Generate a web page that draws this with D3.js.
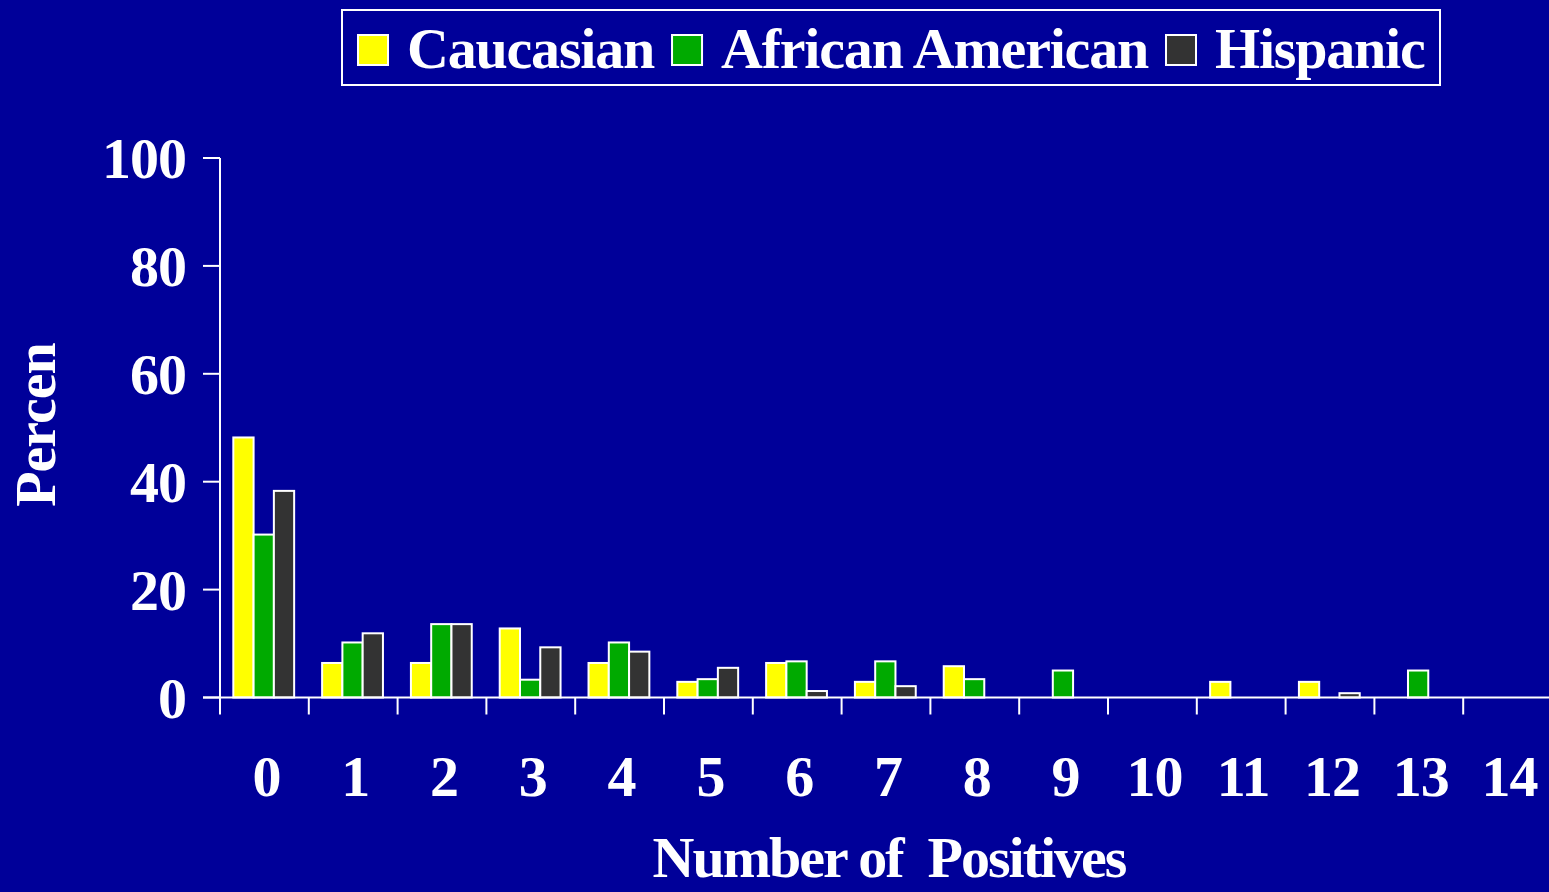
<!DOCTYPE html>
<html>
<head>
<meta charset="utf-8">
<script src="https://cdn.jsdelivr.net/npm/d3@7"></script>
<style>
  html, body { margin: 0; padding: 0; background: #000099; }
  svg text { font-family: "Liberation Serif", "Times New Roman", serif; font-weight: bold; fill: #fff; }
</style>
</head>
<body>
<div id="chart"></div>
<script>
// categories and series (percent)
const positives = ["0","1","2","3","4","5","6","7","8","9","10","11","12","13","14"];
const seriesNames = ["Caucasian", "African American", "Hispanic"];
const caucasian = [48.2, 6.4, 6.4, 12.8, 6.4, 2.9, 6.4, 2.9, 5.8, 0, 0, 2.9, 2.9, 0, 0];
const africanAmerican = [30.2, 10.2, 13.6, 3.3, 10.2, 3.4, 6.7, 6.7, 3.4, 5.0, 0, 0, 0, 5.0, 0];
const hispanic = [38.3, 11.9, 13.6, 9.3, 8.5, 5.5, 1.2, 2.1, 0, 0, 0, 0, 0.8, 0, 0];
const yTicks = [0, 20, 40, 60, 80, 100];
const colors = ["#ffff00", "#00aa00", "#333333"];

const W = 1549, H = 892;
const margin = {top: 158, right: -3, bottom: 194, left: 220};

const svg = d3.select("#chart").append("svg")
    .attr("width", W)
    .attr("height", H);

svg.append("rect").attr("width", W).attr("height", H).attr("fill", "#000099");

const data = positives.map((p, i) => ({
  cat: p,
  values: [caucasian[i], africanAmerican[i], hispanic[i]]
}));

const x = d3.scaleBand()
    .domain(positives)
    .range([margin.left, W - margin.right])
    .padding(0);

const xSub = d3.scaleBand()
    .domain(seriesNames)
    .range([x.bandwidth() * 0.15, x.bandwidth() * 0.835])
    .padding(0);

const y = d3.scaleLinear()
    .domain([0, 100])
    .range([H - margin.bottom - 0.5, margin.top]);

const color = d3.scaleOrdinal().domain(seriesNames).range(colors);

// bars
svg.append("g")
  .selectAll("g")
  .data(data)
  .join("g")
    .attr("transform", d => `translate(${x(d.cat)},0)`)
  .selectAll("rect")
  .data(d => d.values.map((v, k) => ({key: seriesNames[k], value: v})).filter(e => e.value > 0))
  .join("rect")
    .attr("x", d => xSub(d.key))
    .attr("y", d => y(d.value))
    .attr("width", xSub.bandwidth())
    .attr("height", d => y(0) - y(d.value))
    .attr("fill", d => color(d.key))
    .attr("stroke", "#fff")
    .attr("stroke-width", 2);

// x axis: line + ticks at band edges
const xAxis = svg.append("g");
xAxis.append("line")
    .attr("x1", margin.left - 17).attr("x2", W)
    .attr("y1", y(0)).attr("y2", y(0))
    .attr("stroke", "#fff").attr("stroke-width", 2);
xAxis.selectAll("line.tick")
  .data(positives)
  .join("line")
    .attr("class", "tick")
    .attr("x1", d => x(d)).attr("x2", d => x(d))
    .attr("y1", y(0)).attr("y2", y(0) + 17)
    .attr("stroke", "#fff").attr("stroke-width", 2);
xAxis.selectAll("text")
  .data(positives)
  .join("text")
    .attr("x", d => x(d) + x.bandwidth() / 2 + 2)
    .attr("y", 796)
    .attr("text-anchor", "middle")
    .attr("font-size", 58)
    .attr("letter-spacing", -1)
    .text(d => d);

// y axis
const yAxis = svg.append("g");
yAxis.append("line")
    .attr("x1", margin.left).attr("x2", margin.left)
    .attr("y1", y(100)).attr("y2", y(0))
    .attr("stroke", "#fff").attr("stroke-width", 2);
yAxis.selectAll("line.tick")
  .data(yTicks)
  .join("line")
    .attr("class", "tick")
    .attr("x1", margin.left - 17).attr("x2", margin.left)
    .attr("y1", d => y(d)).attr("y2", d => y(d))
    .attr("stroke", "#fff").attr("stroke-width", 2);
yAxis.selectAll("text")
  .data(yTicks)
  .join("text")
    .attr("x", 186)
    .attr("y", d => y(d) + 20)
    .attr("text-anchor", "end")
    .attr("font-size", 58)
    .attr("letter-spacing", -1)
    .text(d => d);

// axis titles
svg.append("text")
    .attr("x", 889)
    .attr("y", 877)
    .attr("text-anchor", "middle")
    .attr("font-size", 58)
    .attr("letter-spacing", -2)
    .attr("xml:space", "preserve")
    .text("Number of  Positives");

svg.append("text")
    .attr("transform", "translate(55,425) rotate(-90)")
    .attr("text-anchor", "middle")
    .attr("font-size", 58)
    .attr("letter-spacing", -1)
    .text("Percen");

// legend
const legend = svg.append("g");
legend.append("rect")
    .attr("x", 342).attr("y", 10)
    .attr("width", 1098).attr("height", 75)
    .attr("fill", "none")
    .attr("stroke", "#fff").attr("stroke-width", 2);

let lx = 358;
seriesNames.forEach(name => {
  legend.append("rect")
      .attr("x", lx).attr("y", 35)
      .attr("width", 30).attr("height", 30)
      .attr("fill", color(name))
      .attr("stroke", "#fff").attr("stroke-width", 2);
  const t = legend.append("text")
      .attr("x", lx + 49).attr("y", 68)
      .attr("font-size", 58)
      .attr("letter-spacing", -1.2)
      .text(name);
  lx += 49 + t.node().getComputedTextLength() + 18;
});
</script>
</body>
</html>
